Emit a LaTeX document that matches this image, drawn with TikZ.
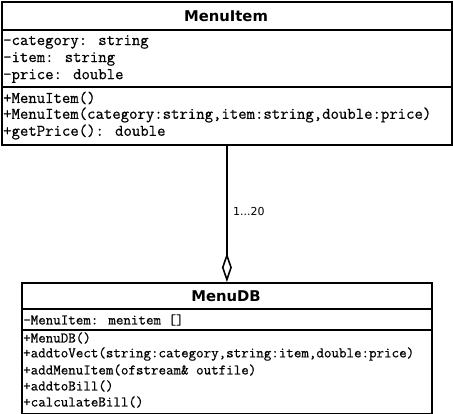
\documentclass[tikz,border=0pt]{standalone}
\usepackage{fontspec}
\setmainfont{DejaVu Sans}
\newfontfamily\umlmono[FakeBold=0.6]{Latin Modern Mono}
\usetikzlibrary{arrows.meta}
\tikzset{
  classbox/.style={draw=black, line width=1.8pt, rectangle, inner sep=0pt, fill=white},
  title/.style={font=\bfseries\fontsize{14.8}{16}\selectfont, inner sep=0pt},
  memA/.style={anchor=west, inner sep=0pt, font=\umlmono\fontsize{16.3}{18}\selectfont},
  memB/.style={anchor=west, inner sep=0pt, font=\umlmono\fontsize{14.6}{16}\selectfont},
  sep/.style={line width=1.8pt},
  assoc/.style={line width=2pt, -{Diamond[open, length=29pt, width=10pt, line width=1.6pt]}},
  mult/.style={anchor=west, inner sep=0pt, font=\fontsize{11}{13}\selectfont}
}
\begin{document}
\begin{tikzpicture}[x=1pt, y=-1pt]
\useasboundingbox (0,0) rectangle (453,414);
% MenuItem class
\node[classbox, minimum width=450pt, minimum height=143pt, anchor=north west] (mi) at (1,1) {};
\node[title] (mit) at (226,16) {MenuItem};
\draw[sep] (1,30) coordinate (mis1) -- (451,30) coordinate (mis1e);
\draw[sep] (1,87) coordinate (mis2) -- (451,87) coordinate (mis2e);
\node[memA] (a1) at (3,42) {-category: string};
\node[memA] (a2) at (3,59) {-item: string};
\node[memA] (a3) at (3,76) {-price: double};
\node[memA] (o1) at (3,98) {+MenuItem()};
\node[memA] (o2) at (3,115) {+MenuItem(category:string,item:string,double:price)};
\node[memA] (o3) at (3,132) {+getPrice(): double};
% MenuDB class
\node[classbox, minimum width=410pt, minimum height=131pt, anchor=north west] (db) at (21,282) {};
\node[title] (dbt) at (226,296) {MenuDB};
\draw[sep] (21,309) coordinate (dbs1) -- (431,309) coordinate (dbs1e);
\draw[sep] (21,330) coordinate (dbs2) -- (431,330) coordinate (dbs2e);
\node[memB] (b1) at (23,320) {-MenuItem: menitem []};
\node[memB] (p1) at (23,338) {+MenuDB()};
\node[memB] (p2) at (23,354) {+addtoVect(string:category,string:item,double:price)};
\node[memB] (p3) at (23,370) {+addMenuItem(ofstream\& outfile)};
\node[memB] (p4) at (23,386) {+addtoBill()};
\node[memB] (p5) at (23,402) {+calculateBill()};
% association
\draw[assoc] (mi.south) -- (db.north);
\node[mult] (m) at (233,211) {1...20};
\end{tikzpicture}
\end{document}
